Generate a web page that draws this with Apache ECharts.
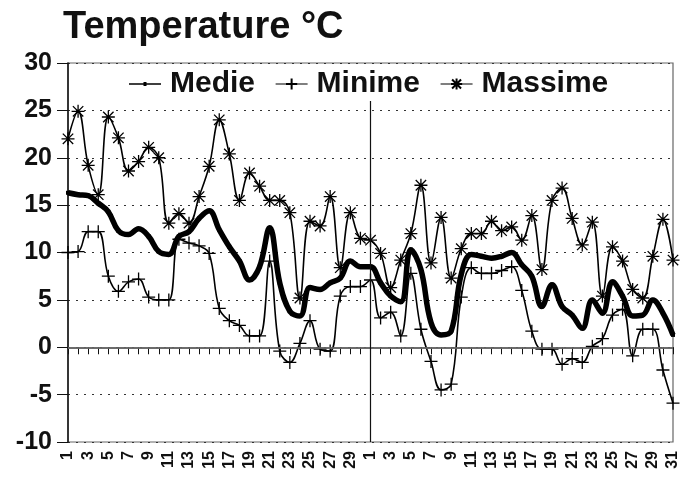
<!DOCTYPE html>
<html>
<head>
<meta charset="utf-8">
<script src="https://cdn.jsdelivr.net/npm/echarts@6/dist/echarts.min.js"></script>
<style>html,body{margin:0;padding:0;background:#fff}#c{width:689px;height:479px}</style>
</head>
<body>
<div id="c"></div>
<script>
var month1Days = ['1','2','3','4','5','6','7','8','9','10','11','12','13','14','15','16','17','18','19','20','21','22','23','24','25','26','27','28','29','30'];
var month2Days = ['1','2','3','4','5','6','7','8','9','10','11','12','13','14','15','16','17','18','19','20','21','22','23','24','25','26','27','28','29','30','31'];
var medie1 = [16.3,16.1,16.0,15.2,14.3,12.3,11.9,12.5,11.7,10.1,9.8,11.7,12.2,13.6,14.4,12.4,10.6,9.1,7.1,8.5,12.6,6.8,3.8,3.3,6.3,6.1,6.8,7.3,9.1,8.5];
var medie2 = [8.5,6.8,5.4,4.8,10.3,8.2,2.6,1.3,1.7,7.7,9.8,9.6,9.4,9.6,10.0,8.7,7.5,4.3,6.6,4.3,3.4,2.0,5.0,3.6,6.9,5.4,3.3,3.4,5.0,3.6,1.3];
var minime1 = [10.0,10.1,12.2,12.2,7.5,5.9,6.9,7.2,5.3,5.0,5.0,11.4,11.0,10.7,9.9,4.1,2.8,2.3,1.2,1.2,9.1,-0.4,-1.6,0.4,2.8,-0.2,-0.4,5.4,6.4,6.4];
var minime2 = [7.1,3.1,3.7,1.2,7.8,1.9,-1.5,-4.5,-3.9,5.3,8.4,7.8,7.8,8.1,8.5,6.0,1.7,-0.2,-0.2,-1.8,-1.2,-1.6,0.1,0.9,3.4,4.0,-0.9,1.9,1.9,-2.4,-5.9];
var massime1 = [22.0,24.9,19.2,16.1,24.3,22.1,18.6,19.6,21.1,20.0,13.1,14.1,13.1,15.9,19.1,24.0,20.4,15.5,18.4,17.0,15.5,15.5,14.2,5.2,13.3,12.8,15.9,8.4,14.2,11.5];
var massime2 = [11.3,9.9,6.3,9.2,12.0,17.1,8.9,13.7,7.3,10.4,12.0,12.0,13.3,12.3,12.7,11.3,13.9,8.2,15.5,16.8,13.6,10.8,13.2,5.4,10.6,9.1,6.1,5.2,9.6,13.5,9.2];
var yTicks = {min: -10, max: 30, step: 5};
var monthSplit = {index: 30, from: 26.3, to: -10};

var categories = month1Days.concat(month2Days);
var medie = medie1.concat(medie2);
var minime = minime1.concat(minime2);
var massime = massime1.concat(massime2);

var FONT = '"Liberation Sans", Arial, Helvetica, sans-serif';
var plusPath = 'path://M0,5 L10,5 M5,0 L5,10';
var starPath = 'path://M1,1 L9,9 M9,1 L1,9 M5,0 L5,10 M0,5 L10,5';
var medieIcon = 'path://M0,6.3 L32,6.3 L32,7.7 L0,7.7 Z M14.5,5 L17.5,5 L17.5,9 L14.5,9 Z M0,0 L0.01,0 L0.01,0.01 Z M0,14 L0.01,14 L0.01,13.99 Z';

var chart = echarts.init(document.getElementById('c'), null, {renderer: 'canvas'});
chart.setOption({
  animation: false,
  backgroundColor: '#fff',
  title: {
    text: 'Temperature °C',
    left: 63, top: 9, padding: 0,
    textStyle: {fontFamily: FONT, fontSize: 38, fontWeight: 'bold', color: '#111'}
  },
  legend: {
    left: 125, top: 67, z: 10,
    backgroundColor: '#fff',
    padding: [2, 4, 2, 4],
    itemWidth: 32, itemHeight: 14, itemGap: 20,
    textStyle: {fontFamily: FONT, fontSize: 30, fontWeight: 'bold', color: '#111', padding: [0, 0, 0, 4]},
    data: [
      {name: 'Medie', icon: medieIcon, itemStyle: {color: '#000'}},
      {name: 'Minime', lineStyle: {width: 1.2}},
      {name: 'Massime', lineStyle: {width: 1.2}}
    ]
  },
  grid: {
    left: 68, right: 16, top: 63, bottom: 37,
    show: true, borderColor: '#666', borderWidth: 1.2, backgroundColor: 'transparent'
  },
  xAxis: {
    type: 'category',
    data: categories,
    boundaryGap: false,
    axisLine: {lineStyle: {color: '#111', width: 1.5}},
    axisTick: {show: true, interval: 0, length: 7, lineStyle: {color: '#111', width: 1}},
    axisLabel: {interval: 1, rotate: 90, margin: 9, fontFamily: FONT, fontSize: 16, fontWeight: 'bold', color: '#111'},
    splitLine: {show: false}
  },
  yAxis: {
    type: 'value',
    min: yTicks.min, max: yTicks.max, interval: yTicks.step,
    axisLine: {show: true, lineStyle: {color: '#111', width: 1.5}},
    axisTick: {show: true, length: 11, lineStyle: {color: '#111', width: 1}},
    axisLabel: {margin: 16, fontFamily: FONT, fontSize: 25, fontWeight: 'bold', color: '#111'},
    splitLine: {show: true, lineStyle: {color: '#333', width: 1.2, type: [2, 6]}}
  },
  series: [
    {
      name: 'Medie', type: 'line', data: medie, smooth: 0.4,
      symbol: 'rect', symbolSize: 4, showSymbol: true, showAllSymbol: true,
      lineStyle: {color: '#000', width: 5.5},
      itemStyle: {color: '#000'},
      z: 3,
      markLine: {
        silent: true, symbol: 'none', label: {show: false},
        data: [
          {yAxis: 0, lineStyle: {color: '#777', width: 1.5, type: 'solid'}},
          [
            {coord: [monthSplit.index, monthSplit.from], lineStyle: {color: '#111', width: 1.2, type: 'solid'}},
            {coord: [monthSplit.index, monthSplit.to]}
          ]
        ]
      }
    },
    {
      name: 'Minime', type: 'line', data: minime, smooth: 0.4,
      symbol: plusPath, symbolSize: 13, showSymbol: true, showAllSymbol: true,
      lineStyle: {color: '#000', width: 1.6},
      itemStyle: {color: 'none', borderColor: '#000', borderWidth: 1.3}
    },
    {
      name: 'Massime', type: 'line', data: massime, smooth: 0.4,
      symbol: starPath, symbolSize: 13, showSymbol: true, showAllSymbol: true,
      lineStyle: {color: '#000', width: 1.6},
      itemStyle: {color: 'none', borderColor: '#000', borderWidth: 1.3}
    }
  ]
});
</script>
</body>
</html>
